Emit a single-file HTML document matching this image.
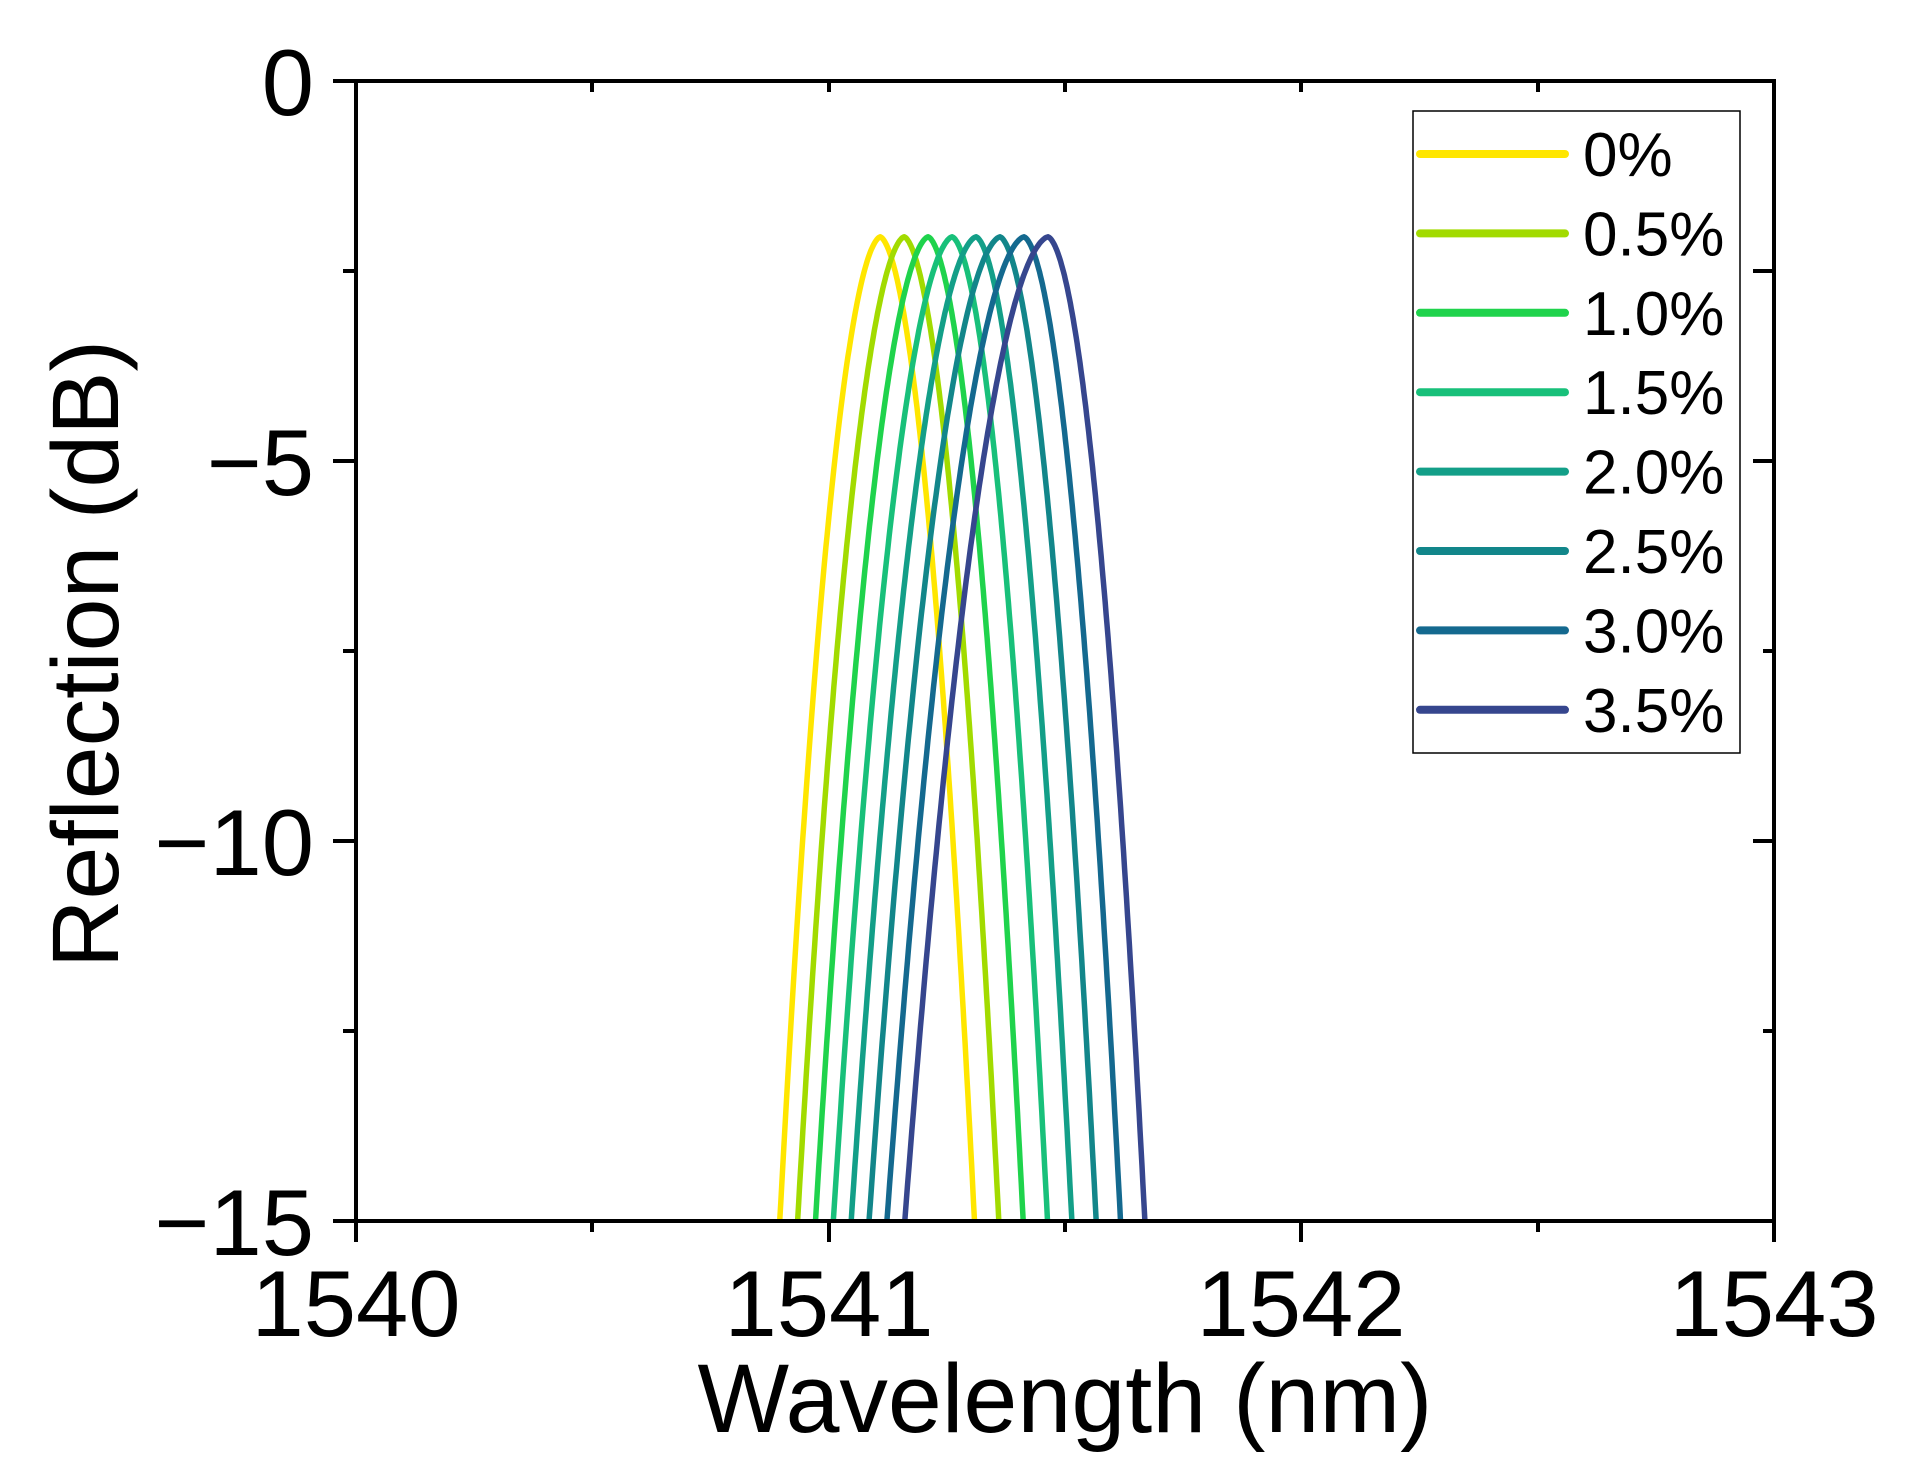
<!DOCTYPE html>
<html><head><meta charset="utf-8"><style>
html,body{margin:0;padding:0;background:#fff;}
svg{display:block;font-family:"Liberation Sans",Arial,sans-serif;}
</style></head><body>
<svg id="s" width="1916" height="1475" viewBox="0 0 1916 1475" xmlns="http://www.w3.org/2000/svg">
<rect width="1916" height="1475" fill="#fff"/>
<g id="curves" fill="none" stroke-width="5.5" stroke-linejoin="round"></g>
<rect x="356" y="81" width="1418" height="1140" fill="none" stroke="#000" stroke-width="4"/>
<g stroke="#000" stroke-width="4">
<line x1="356" y1="1221" x2="356" y2="1242"/><line x1="592" y1="1221" x2="592" y2="1232"/>
<line x1="829" y1="1221" x2="829" y2="1242"/><line x1="1065" y1="1221" x2="1065" y2="1232"/>
<line x1="1301" y1="1221" x2="1301" y2="1242"/><line x1="1538" y1="1221" x2="1538" y2="1232"/>
<line x1="1774" y1="1221" x2="1774" y2="1242"/>
<line x1="592" y1="81" x2="592" y2="92"/><line x1="829" y1="81" x2="829" y2="92"/>
<line x1="1065" y1="81" x2="1065" y2="92"/><line x1="1301" y1="81" x2="1301" y2="92"/>
<line x1="1538" y1="81" x2="1538" y2="92"/>
<line x1="333" y1="81" x2="356" y2="81"/><line x1="343" y1="271" x2="356" y2="271"/>
<line x1="333" y1="461" x2="356" y2="461"/><line x1="343" y1="651" x2="356" y2="651"/>
<line x1="333" y1="841" x2="356" y2="841"/><line x1="343" y1="1031" x2="356" y2="1031"/>
<line x1="333" y1="1221" x2="356" y2="1221"/>
<line x1="1753" y1="271" x2="1774" y2="271"/><line x1="1753" y1="461" x2="1774" y2="461"/>
<line x1="1763" y1="651" x2="1774" y2="651"/><line x1="1753" y1="841" x2="1774" y2="841"/>
<line x1="1763" y1="1031" x2="1774" y2="1031"/>
</g>
<g font-size="94" fill="#000" text-anchor="middle">
<text x="356" y="1336">1540</text><text x="829" y="1336">1541</text>
<text x="1301" y="1336">1542</text><text x="1774" y="1336">1543</text>
</g>
<g font-size="94" fill="#000" text-anchor="end">
<text x="314" y="115">0</text><text x="314" y="495">−5</text>
<text x="314" y="875">−10</text><text x="314" y="1255">−15</text>
</g>
<text x="1065" y="1432" font-size="97" text-anchor="middle">Wavelength (nm)</text>
<text transform="translate(118,654) rotate(-90)" font-size="95" text-anchor="middle">Reflection (dB)</text>
<rect x="1413" y="111" width="327" height="642" fill="#fff" stroke="#000" stroke-width="1.5"/>
<g id="legend" font-size="62" stroke-linecap="round"></g>
</svg>
<script>
var cols=["#ffe600","#a2db00","#1fd34c","#18c07a","#139f88","#12868a","#14698f","#36468e"];
var labs=["0%","0.5%","1.0%","1.5%","2.0%","2.5%","3.0%","3.5%"];
function X(nm){return 356+(nm-1540)*1418/3;}
function Y(db){return 81+(-db)*76;}
var g=document.getElementById("curves"),lg=document.getElementById("legend"),NS="http://www.w3.org/2000/svg";
for(var i=0;i<8;i++){
 var t=i/7;
 var c=1541.109+t*(1541.464-1541.109);
 var L=0.2125+t*(0.303-0.2125), R=0.1995+t*(0.205-0.1995);
 var pts=[];
 for(var k=0;k<=200;k++){
  var u=-1+k/100;
  var off=u<0?u*L:u*R;
  var d=Math.abs(u);
  var f=0.85*d*d+0.15*Math.pow(d,1.3);
  var db=-2.05-12.95*f;
  pts.push(X(c+off).toFixed(1)+","+Y(db).toFixed(1));
 }
 var p=document.createElementNS(NS,"polyline");
 p.setAttribute("points",pts.join(" "));p.setAttribute("stroke",cols[i]);
 g.appendChild(p);
 var y=154+i*79.4;
 var l=document.createElementNS(NS,"line");
 l.setAttribute("x1",1420);l.setAttribute("x2",1565);l.setAttribute("y1",y);l.setAttribute("y2",y);
 l.setAttribute("stroke",cols[i]);l.setAttribute("stroke-width",8);lg.appendChild(l);
 var tx=document.createElementNS(NS,"text");
 tx.setAttribute("x",1583);tx.setAttribute("y",y+22);tx.textContent=labs[i];lg.appendChild(tx);
}
</script>
</body></html>
